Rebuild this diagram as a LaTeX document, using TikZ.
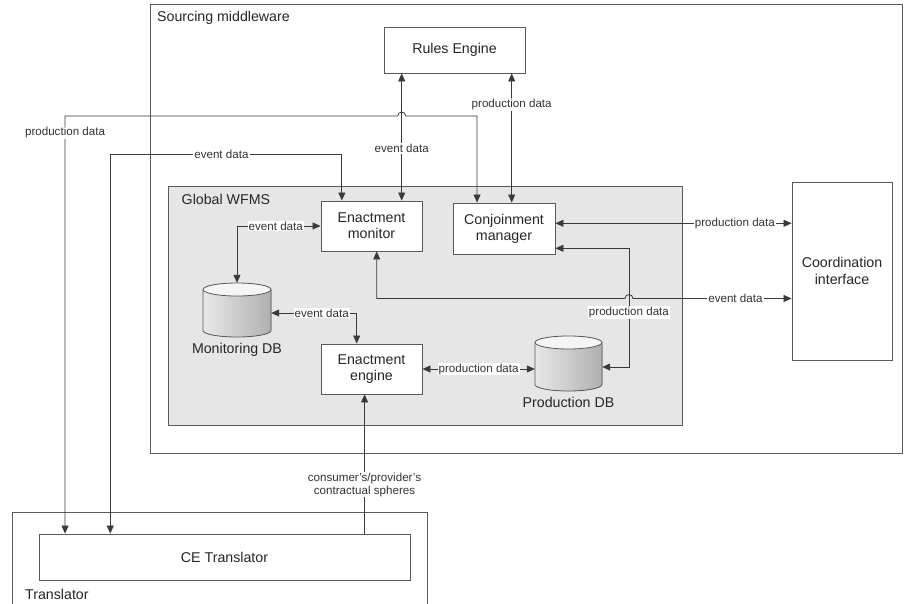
\documentclass[tikz,border=0pt]{standalone}
\usepackage{fontspec}
\setmainfont{Liberation Sans}
\usetikzlibrary{arrows.meta,calc}
\definecolor{ln}{HTML}{3A3A3A}
\definecolor{frm}{HTML}{5A5A5A}
\definecolor{wf}{HTML}{E6E6E6}
\begin{document}
\begin{tikzpicture}[x=1pt,y=-1pt,
  box/.style={draw=frm, line width=0.9pt, fill=white, inner sep=0pt, align=center,
    font=\fontsize{14.2}{16.3}\selectfont, text=black!85},
  lbl/.style={fill=white, inner sep=1pt, font=\fontsize{11.6}{12.4}\selectfont, text=black!80},
  con/.style={draw=ln, line width=0.8pt},
  dbl/.style={con, {Triangle[length=8pt,width=7pt]}-{Triangle[length=8pt,width=7pt]}},
  arr/.style={con, -{Triangle[length=8pt,width=7pt]}},
  frame/.style={draw=frm, line width=0.9pt},
  title/.style={anchor=west, inner sep=0pt, font=\fontsize{14.2}{16.3}\selectfont, text=black!85},
  dbtext/.style={inner sep=0pt, font=\fontsize{14.2}{16.3}\selectfont, text=black!85},
  cylbody/.style={left color=gray!18, right color=gray!62},
  cyltop/.style={draw=frm, line width=0.8pt, fill=gray!8}]
\useasboundingbox (0,0) rectangle (904,604);
\fill[white] (0,0) rectangle (904,604);

% frames
\draw[frame] (150,4) rectangle (902,453);
\node[title] (smt) at (157,18) {Sourcing middleware};
\draw[frame, fill=wf] (168,186) rectangle (682,425);
\node[title] (gwt) at (181.5,199) {Global WFMS};
\draw[frame] (12,610) -- (12,512) -- (427,512) -- (427,610);
\node[title] (trt) at (25,594) {Translator};

% boxes
\node[box, minimum width=141pt, minimum height=46pt] (re) at (454.5,50) {Rules Engine};
\node[box, minimum width=101pt, minimum height=50pt] (em) at (371.5,226) {Enactment\\monitor};
\node[box, minimum width=102pt, minimum height=51pt] (cm) at (504,228.5) {Conjoinment\\manager};
\node[box, minimum width=100pt, minimum height=178pt] (ci) at (842,271) {Coordination\\interface};
\node[box, minimum width=101pt, minimum height=50pt] (ee) at (371.5,369) {Enactment\\engine};
\node[box, minimum width=371pt, minimum height=46pt] (ce) at (224.5,557) {CE Translator};

% Monitoring DB
\node[inner sep=0pt, minimum width=68pt, minimum height=54pt] (mdb) at (237,310) {};
\fill[cylbody] (203,289.5) -- (203,330.5) arc[start angle=180, end angle=360, x radius=34pt, y radius=6.5pt]
  -- (271,289.5) arc[start angle=0, end angle=180, x radius=34pt, y radius=6.5pt] -- cycle;
\draw[draw=frm, line width=0.8pt] (203,289.5) -- (203,330.5) arc[start angle=180, end angle=360, x radius=34pt, y radius=6.5pt] -- (271,289.5);
\draw[cyltop] (237,289.5) ellipse [x radius=34pt, y radius=6.5pt];
\node[dbtext] (mdbl) at (237,349.5) {Monitoring DB};

% Production DB
\node[inner sep=0pt, minimum width=67pt, minimum height=55pt] (pdb) at (568.5,363.5) {};
\fill[cylbody] (535,342.5) -- (535,384.5) arc[start angle=180, end angle=360, x radius=33.5pt, y radius=6.5pt]
  -- (602,342.5) arc[start angle=0, end angle=180, x radius=33.5pt, y radius=6.5pt] -- cycle;
\draw[draw=frm, line width=0.8pt] (535,342.5) -- (535,384.5) arc[start angle=180, end angle=360, x radius=33.5pt, y radius=6.5pt] -- (602,342.5);
\draw[cyltop] (568.5,342.5) ellipse [x radius=33.5pt, y radius=6.5pt];
\node[dbtext] (pdbl) at (568.5,402) {Production DB};

% C1 rules engine <-> enactment monitor
\coordinate (c1) at ($(em.north)+(30.2,0)$);
\draw[dbl] (re.south -| c1) -- (c1) node[lbl,pos=0.59]{event data};

% C2 rules engine <-> conjoinment manager
\coordinate (c2) at ($(cm.north)+(7.7,0)$);
\draw[dbl] (re.south -| c2) -- (c2) node[lbl,pos=0.24]{production data};

% C3 CE translator <-> conjoinment manager
\coordinate (c3a) at ($(ce.north west)+(26.5,0)$);
\coordinate (c3b) at ($(cm.north west)+(24.5,0)$);
\coordinate (c3y) at (0,116);
\draw[dbl] (c3a) -- (c3a |- c3y) node[lbl,pos=0.96]{production data}
  -- ($(c1 |- c3y)+(-4,0)$) arc[start angle=180, end angle=0, radius=4pt]
  -- (c3b |- c3y) -- (c3b);

% C4 CE translator <-> enactment monitor
\coordinate (c4a) at ($(ce.north west)+(71.7,0)$);
\coordinate (c4b) at ($(em.north west)+(21.3,0)$);
\coordinate (c4y) at (0,154.7);
\draw[dbl] (c4a) -- (c4a |- c4y) -- (c4b |- c4y) node[lbl,pos=0.48]{event data} -- (c4b);

% C5 enactment monitor <-> monitoring DB
\draw[dbl] (em.west) -| (mdb.north) node[lbl,pos=0.268]{event data};

% C6 monitoring DB <-> enactment engine
\coordinate (c6a) at ($(mdb.east)+(0,3)$);
\coordinate (c6b) at ($(ee.north)+(-14.8,0)$);
\draw[dbl] (c6a) -| (c6b) node[lbl,pos=0.295]{event data};

% C7 enactment monitor <-> coordination interface
\coordinate (c7a) at ($(em.south)+(5.2,0)$);
\coordinate (c7b) at ($(ci.west)+(0,27.5)$);
\coordinate (c9x) at ($(cm.east)+(73.5,0)$);
\draw[dbl] (c7a) -- (c7a |- c7b) -- ($(c9x |- c7b)+(-4,0)$) arc[start angle=180, end angle=0, radius=4pt]
  -- (c7b) node[lbl,pos=0.646]{event data};

% C8 conjoinment manager <-> coordination interface
\coordinate (c8a) at ($(cm.east)+(0,-5.2)$);
\draw[dbl] (c8a) -- (c8a -| ci.west) node[lbl,pos=0.76]{production data};

% C9 conjoinment manager <-> production DB
\coordinate (c9a) at ($(cm.east)+(0,19.8)$);
\coordinate (c9b) at ($(pdb.east)+(0,3.5)$);
\draw[dbl] (c9a) -- (c9a -| c9x) -- (c9b -| c9x) node[lbl,pos=0.54]{production data} -- (c9b);

% C10 enactment engine <-> production DB
\draw[dbl] (ee.east) -- (ee.east -| pdb.west) node[lbl,midway]{production data};

% C11 CE translator -> enactment engine
\coordinate (c11) at ($(ce.north west)+(326,0)$);
\draw[arr] (c11) -- (c11 |- ee.south) node[lbl,pos=0.35,align=center]{consumer's/provider's\\contractual spheres};
\end{tikzpicture}
\end{document}
